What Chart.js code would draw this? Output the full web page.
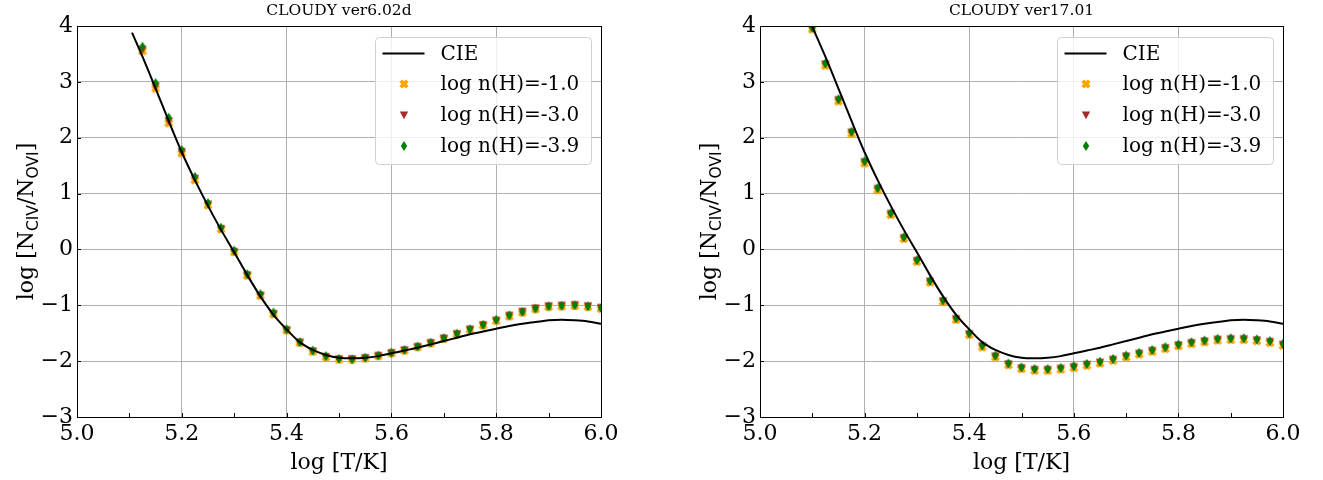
<!DOCTYPE html>
<html>
<head>
<meta charset="utf-8">
<script src="https://cdn.jsdelivr.net/npm/chart.js@4.4.1/dist/chart.umd.min.js"></script>
<style>
  html, body { margin: 0; padding: 0; background: #fff; }
  body { width: 1323px; height: 480px; position: relative; overflow: hidden; }
  .panel { position: absolute; top: 0; width: 640px; height: 480px; }
  #left { left: 0; }
  #right { left: 683px; }
</style>
</head>
<body>
<div class="panel" id="left"><canvas id="chartOld" width="640" height="480"></canvas></div>
<div class="panel" id="right"><canvas id="chartNew" width="640" height="480"></canvas></div>
<script>
// --- data: log T grid and log N(CIV)/N(OVI) ---
const panelTitles = ['CLOUDY ver6.02d', 'CLOUDY ver17.01'];
const seriesLabels = ['CIE', 'log n(H)=-1.0', 'log n(H)=-3.0', 'log n(H)=-3.9'];

const xTicks = [5.0, 5.2, 5.4, 5.6, 5.8, 6.0];
const xMinorTicks = [5.1, 5.3, 5.5, 5.7, 5.9];
const yTicks = [-3, -2, -1, 0, 1, 2, 3, 4];

// CIE curve (same in both panels, left one starts at 5.105)
const cieTemp = [5.100, 5.105, 5.125, 5.150, 5.175, 5.200, 5.225, 5.250, 5.275, 5.300,
  5.325, 5.350, 5.375, 5.400, 5.425, 5.450, 5.475, 5.500, 5.525, 5.550, 5.575, 5.600,
  5.625, 5.650, 5.675, 5.700, 5.725, 5.750, 5.775, 5.800, 5.825, 5.850, 5.875, 5.900,
  5.925, 5.950, 5.975, 6.000];
const cieRatio = [3.99, 3.88, 3.45, 2.88, 2.30, 1.74, 1.24, 0.78, 0.35, -0.05,
  -0.46, -0.84, -1.17, -1.43, -1.66, -1.80, -1.89, -1.94, -1.95, -1.94, -1.91, -1.86,
  -1.81, -1.76, -1.70, -1.64, -1.58, -1.52, -1.47, -1.42, -1.37, -1.33, -1.30, -1.27,
  -1.26, -1.27, -1.29, -1.33];

// ver6.02d runs
const tempOld = [5.125, 5.150, 5.175, 5.200, 5.225, 5.250, 5.275, 5.300, 5.325, 5.350,
  5.375, 5.400, 5.425, 5.450, 5.475, 5.500, 5.525, 5.550, 5.575, 5.600, 5.625, 5.650,
  5.675, 5.700, 5.725, 5.750, 5.775, 5.800, 5.825, 5.850, 5.875, 5.900, 5.925, 5.950,
  5.975, 6.000];
const oldN1 = [3.55, 2.88, 2.26, 1.72, 1.24, 0.79, 0.36, -0.05, -0.47, -0.83, -1.16, -1.45,
  -1.67, -1.83, -1.93, -1.97, -1.97, -1.95, -1.91, -1.86, -1.81, -1.75, -1.68, -1.60,
  -1.52, -1.44, -1.36, -1.28, -1.20, -1.13, -1.07, -1.03, -1.02, -1.01, -1.03, -1.06];
const oldN3 = [3.58, 2.92, 2.30, 1.75, 1.27, 0.81, 0.37, -0.04, -0.46, -0.82, -1.15, -1.44,
  -1.66, -1.82, -1.92, -1.96, -1.96, -1.94, -1.90, -1.85, -1.80, -1.74, -1.67, -1.59,
  -1.51, -1.43, -1.35, -1.27, -1.18, -1.11, -1.05, -1.01, -1.00, -0.99, -1.01, -1.04];
const oldN39 = [3.63, 2.98, 2.36, 1.78, 1.30, 0.83, 0.39, -0.02, -0.44, -0.80, -1.13, -1.43,
  -1.66, -1.81, -1.91, -1.96, -1.97, -1.94, -1.90, -1.85, -1.80, -1.74, -1.67, -1.59,
  -1.51, -1.43, -1.35, -1.26, -1.18, -1.12, -1.06, -1.02, -1.01, -1.00, -1.02, -1.05];

// ver17.01 runs
const tempNew = [5.100, 5.125, 5.150, 5.175, 5.200, 5.225, 5.250, 5.275, 5.300, 5.325,
  5.350, 5.375, 5.400, 5.425, 5.450, 5.475, 5.500, 5.525, 5.550, 5.575, 5.600, 5.625,
  5.650, 5.675, 5.700, 5.725, 5.750, 5.775, 5.800, 5.825, 5.850, 5.875, 5.900, 5.925,
  5.950, 5.975, 6.000];
const newN1 = [3.94, 3.29, 2.65, 2.07, 1.54, 1.06, 0.62, 0.19, -0.22, -0.59, -0.94, -1.26,
  -1.53, -1.75, -1.93, -2.07, -2.14, -2.17, -2.17, -2.15, -2.12, -2.08, -2.04, -1.99,
  -1.93, -1.88, -1.83, -1.78, -1.73, -1.69, -1.66, -1.63, -1.62, -1.62, -1.64, -1.67, -1.72];
const newN3 = [3.96, 3.32, 2.68, 2.10, 1.57, 1.09, 0.64, 0.21, -0.20, -0.57, -0.92, -1.24,
  -1.51, -1.73, -1.91, -2.05, -2.12, -2.15, -2.15, -2.13, -2.10, -2.06, -2.02, -1.97,
  -1.91, -1.86, -1.81, -1.76, -1.71, -1.67, -1.64, -1.61, -1.60, -1.60, -1.62, -1.65, -1.70];
const newN39 = [3.97, 3.33, 2.69, 2.11, 1.58, 1.10, 0.65, 0.22, -0.19, -0.56, -0.91, -1.23,
  -1.50, -1.72, -1.90, -2.04, -2.11, -2.14, -2.14, -2.12, -2.09, -2.05, -2.01, -1.96,
  -1.90, -1.85, -1.80, -1.75, -1.70, -1.66, -1.63, -1.60, -1.59, -1.59, -1.61, -1.64, -1.69];

const SERIF = '"DejaVu Serif", serif';
const SANS = '"DejaVu Sans", sans-serif';

// small canvases used as point markers (matplotlib X, v and d)
function makeMarker(kind, color) {
  const c = document.createElement('canvas');
  c.width = 12; c.height = 12;
  const g = c.getContext('2d');
  g.fillStyle = color;
  g.translate(6, 6);
  g.beginPath();
  if (kind === 'X') {
    g.rotate(Math.PI / 4);
    const a = 4.6, b = 1.9;
    g.moveTo(-b, -a); g.lineTo(b, -a); g.lineTo(b, -b); g.lineTo(a, -b); g.lineTo(a, b);
    g.lineTo(b, b); g.lineTo(b, a); g.lineTo(-b, a); g.lineTo(-b, b); g.lineTo(-a, b);
    g.lineTo(-a, -b); g.lineTo(-b, -b);
  } else if (kind === 'v') {
    g.moveTo(-4.2, -3.6); g.lineTo(4.2, -3.6); g.lineTo(0, 4.2);
  } else {
    g.moveTo(0, -5); g.lineTo(3.2, 0); g.lineTo(0, 5); g.lineTo(-3.2, 0);
  }
  g.closePath();
  g.fill();
  return c;
}
const markerOrange = makeMarker('X', '#ffa500');
const markerBrown = makeMarker('v', '#a52a2a');
const markerGreen = makeMarker('d', '#008000');

function toXY(xs, ys) { return xs.map((x, i) => ({ x: x, y: ys[i] })); }

// frame, inward ticks, y label with subscripts and the legend box
const decorPlugin = {
  id: 'decor',
  afterDraw(chart) {
    const ctx = chart.ctx;
    const a = chart.chartArea;
    const sx = chart.scales.x, sy = chart.scales.y;
    ctx.save();
    ctx.strokeStyle = '#000';
    ctx.lineWidth = 1;
    ctx.beginPath();
    xTicks.concat(xMinorTicks).forEach(v => {
      const px = Math.round(sx.getPixelForValue(v)) + 0.5;
      ctx.moveTo(px, a.bottom); ctx.lineTo(px, a.bottom - 4);
    });
    yTicks.forEach(v => {
      const py = Math.round(sy.getPixelForValue(v)) + 0.5;
      ctx.moveTo(a.left, py); ctx.lineTo(a.left + 4, py);
    });
    ctx.stroke();
    ctx.strokeRect(Math.round(a.left) + 0.5, Math.round(a.top) + 0.5,
      Math.round(a.right) - Math.round(a.left), Math.round(a.bottom) - Math.round(a.top));

    // y axis label: log [N_CIV/N_OVI]
    const main = '22px ' + SERIF, sub = '15.5px ' + SANS;
    const parts = [['log [N', main, 0], ['CIV', sub, 4.5], ['/N', main, 0], ['OVI', sub, 4.5], [']', main, 0]];
    let total = 0;
    parts.forEach(p => { ctx.font = p[1]; total += ctx.measureText(p[0]).width; });
    ctx.translate(33, (a.top + a.bottom) / 2);
    ctx.rotate(-Math.PI / 2);
    ctx.fillStyle = '#000';
    ctx.textBaseline = 'alphabetic';
    ctx.textAlign = 'left';
    let cx = -total / 2;
    parts.forEach(p => {
      ctx.font = p[1];
      ctx.fillText(p[0], cx, p[2]);
      cx += ctx.measureText(p[0]).width;
    });
    ctx.restore();

    // legend
    ctx.save();
    const bw = 216, bh = 127;
    const bx = a.right - 10.5 - bw, by = a.top + 10.5;
    ctx.beginPath();
    ctx.roundRect(Math.round(bx) + 0.5, Math.round(by) + 0.5, bw, bh, 4);
    ctx.fillStyle = 'rgba(255,255,255,0.8)';
    ctx.fill();
    ctx.strokeStyle = '#d0d0d0';
    ctx.stroke();
    ctx.font = '20px ' + SERIF;
    ctx.textBaseline = 'middle';
    ctx.fillStyle = '#000';
    chart.data.datasets.forEach((ds, i) => {
      const ry = by + 17 + i * 30.7;
      if (ds.showLine) {
        ctx.strokeStyle = '#000';
        ctx.lineWidth = 2;
        ctx.beginPath();
        ctx.moveTo(bx + 8, ry); ctx.lineTo(bx + 50, ry);
        ctx.stroke();
      } else {
        const m = ds.pointStyle;
        ctx.drawImage(m, Math.round(bx + 29 - m.width / 2), Math.round(ry - m.height / 2));
      }
      ctx.fillText(ds.label, bx + 66, ry + 1);
    });
    ctx.restore();
  }
};

function makeChart(canvasId, title, cieData, d1, d3, d39, padRight) {
  const fontTick = { family: SERIF, size: 22 };
  return new Chart(document.getElementById(canvasId), {
    type: 'scatter',
    data: {
      datasets: [
        { label: seriesLabels[0], data: cieData, showLine: true, borderColor: '#000',
          borderWidth: 2, pointRadius: 0, cubicInterpolationMode: 'monotone', order: 0 },
        { label: seriesLabels[1], data: d1, pointStyle: markerOrange, pointRadius: 4, order: 3 },
        { label: seriesLabels[2], data: d3, pointStyle: markerBrown, pointRadius: 4, order: 2 },
        { label: seriesLabels[3], data: d39, pointStyle: markerGreen, pointRadius: 4, order: 1 }
      ]
    },
    options: {
      responsive: false,
      animation: false,
      events: [],
      layout: { padding: { left: 0, right: padRight, top: 0, bottom: 0 } },
      plugins: {
        legend: { display: false },
        tooltip: { enabled: false },
        title: {
          display: true, text: title, fullSize: false, color: '#000',
          font: { family: SERIF, size: 15.5, weight: 'normal' },
          padding: { top: 2, bottom: 5.4 }
        }
      },
      scales: {
        x: {
          type: 'linear', min: 5.0, max: 6.0,
          afterBuildTicks: s => { s.ticks = xTicks.map(v => ({ value: v })); },
          afterFit: s => { s.height = 63; },
          grid: { color: '#b0b0b0', lineWidth: 1, drawTicks: false },
          border: { display: false },
          ticks: { color: '#000', font: fontTick, padding: 4, maxRotation: 0, autoSkip: false,
            callback: v => v.toFixed(1) },
          title: { display: true, text: 'log [T/K]', color: '#000',
            font: { family: SERIF, size: 22 }, padding: { top: 0, bottom: 4 } }
        },
        y: {
          type: 'linear', min: -3, max: 4,
          afterBuildTicks: s => { s.ticks = yTicks.map(v => ({ value: v })); },
          afterFit: s => { s.width = 77; },
          grid: { color: '#b0b0b0', lineWidth: 1, drawTicks: false },
          border: { display: false },
          ticks: { color: '#000', font: fontTick, padding: 4, autoSkip: false,
            callback: v => (v < 0 ? '\u2212' + Math.abs(v) : String(v)) }
        }
      }
    },
    plugins: [decorPlugin]
  });
}

makeChart('chartOld', panelTitles[0], toXY(cieTemp.slice(1), cieRatio.slice(1)),
  toXY(tempOld, oldN1), toXY(tempOld, oldN3), toXY(tempOld, oldN39), 39);
makeChart('chartNew', panelTitles[1], toXY(cieTemp, cieRatio),
  toXY(tempNew, newN1), toXY(tempNew, newN3), toXY(tempNew, newN39), 40);
</script>
</body>
</html>
